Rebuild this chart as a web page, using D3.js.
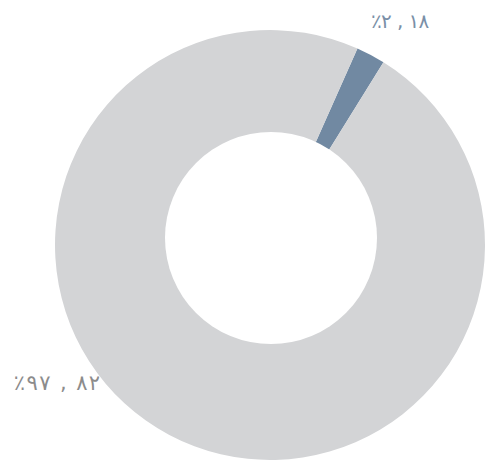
<!DOCTYPE html>
<html>
<head>
<meta charset="utf-8">
<script src="https://cdn.jsdelivr.net/npm/d3@7"></script>
<style>
  body { margin: 0; background: #fff; }
  svg { display: block; }
</style>
</head>
<body>
<div id="chart"></div>
<script>
var width = 487;
var height = 461;

// data
var shares = [2.18, 97.82];
var labels = ["\u066A\u0662 , \u0661\u0668", "\u066A\u0669\u0667 , \u0668\u0662"];
var colors = ["#7189a2", "#d3d4d6"];
var labelColors = ["#7a8fa7", "#8c8c8c"];

var svg = d3.select("#chart")
    .append("svg")
    .attr("width", width)
    .attr("height", height);

var cx = 270, cy = 245;
var outerR = 215;
var innerR = 106;

var g = svg.append("g")
    .attr("transform", "translate(" + cx + "," + cy + ")");

var deg = Math.PI / 180;
var pie = d3.pie()
    .sort(null)
    .value(d => d)
    .startAngle(24 * deg)
    .endAngle(384 * deg);

var arc = d3.arc()
    .innerRadius(0)
    .outerRadius(outerR);

g.selectAll(".slice")
    .data(pie(shares))
    .join("path")
    .attr("class", "slice")
    .attr("d", arc)
    .attr("fill", (d, i) => colors[i]);

// the hole sits a little higher than the ring centre in the original
svg.append("circle")
    .attr("cx", cx + 1)
    .attr("cy", cy - 7)
    .attr("r", innerR)
    .attr("fill", "#fff");

//------------------ labels ------------------\\
// label angle / radius / width per slice (tuned by eye)
var labelPos = [
    {a: 30 * deg, r: 259, w: 57, fs: 20},
    {a: 237 * deg, r: 254, w: 89, fs: 21}
];

svg.selectAll(".lbl")
    .data(pie(shares))
    .join("text")
    .attr("class", "lbl")
    .attr("x", (d, i) => cx + Math.sin(labelPos[i].a) * labelPos[i].r - labelPos[i].w / 2)
    .attr("y", (d, i) => cy - Math.cos(labelPos[i].a) * labelPos[i].r)
    .attr("textLength", (d, i) => labelPos[i].w)
    .attr("lengthAdjust", "spacing")
    .attr("dominant-baseline", "central")
    .style("font-family", "'DejaVu Sans', sans-serif")
    .style("font-size", (d, i) => labelPos[i].fs + "px")
    .style("fill", (d, i) => labelColors[i])
    .text((d, i) => "\u202D" + labels[i] + "\u202C");
</script>
</body>
</html>
